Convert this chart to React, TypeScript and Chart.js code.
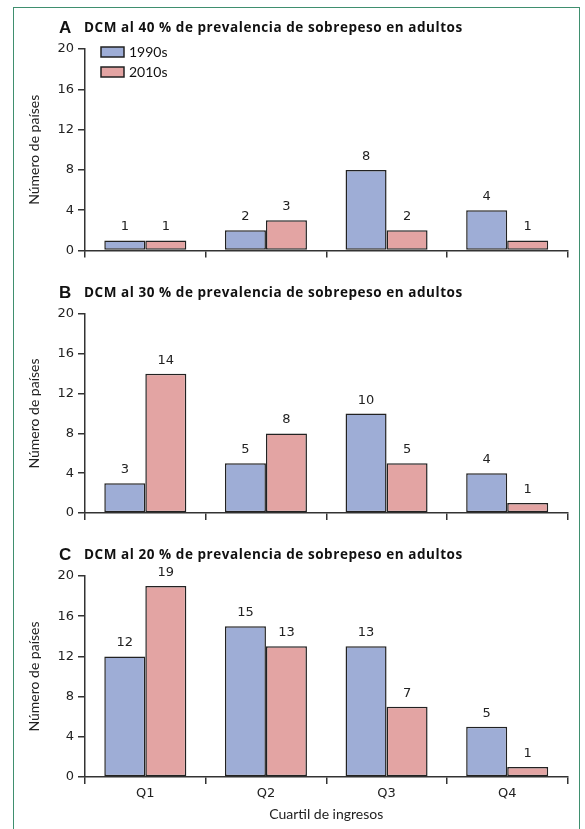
import React, { useEffect, useRef } from 'react';
import { Chart, registerables } from 'chart.js';

Chart.register(...registerables);

// ---------------- data ----------------
const categories = ['Q1', 'Q2', 'Q3', 'Q4'];
const seriesLabels = ['1990s', '2010s'];
const panelLetters = ['A', 'B', 'C'];
const panelTitles = [
  'DCM al 40 % de prevalencia de sobrepeso en adultos',
  'DCM al 30 % de prevalencia de sobrepeso en adultos',
  'DCM al 20 % de prevalencia de sobrepeso en adultos',
];
const values1990A = [1, 2, 8, 4];
const values2010A = [1, 3, 2, 1];
const values1990B = [3, 5, 10, 4];
const values2010B = [14, 8, 5, 1];
const values1990C = [12, 15, 13, 5];
const values2010C = [19, 13, 7, 1];
const yAxisMax = 20;
const yAxisStep = 4;
const yAxisTitle = 'Número de países';
const xAxisTitle = 'Cuartil de ingresos';

// ---------------- styling / layout ----------------
const BLUE = '#9eadd6';
const PINK = '#e3a4a3';
const EDGE = '#222222';
const W = 585;
const AXIS_LEFT = 85;
const AXIS_RIGHT = 567.5;

const panels = [
  { letter: panelLetters[0], title: panelTitles[0], a: values1990A, b: values2010A, legend: true, xLabels: false, top: 0, height: 265, chartTop: 49, chartBottom: 250.5 },
  { letter: panelLetters[1], title: panelTitles[1], a: values1990B, b: values2010B, legend: false, xLabels: false, top: 265, height: 265, chartTop: 49, chartBottom: 248 },
  { letter: panelLetters[2], title: panelTitles[2], a: values1990C, b: values2010C, legend: false, xLabels: true, top: 530, height: 299, chartTop: 46, chartBottom: 247 },
];

const valueLabelPlugin = {
  id: 'valueLabels',
  afterDatasetsDraw(chart: any) {
    const ctx = chart.ctx;
    ctx.save();
    ctx.font = '13px "DejaVu Sans"';
    ctx.fillStyle = '#222';
    ctx.textAlign = 'center';
    ctx.textBaseline = 'alphabetic';
    chart.data.datasets.forEach((ds: any, i: number) => {
      const meta = chart.getDatasetMeta(i);
      meta.data.forEach((el: any, j: number) => {
        ctx.fillText(String(ds.data[j]), el.x, el.y - 10);
      });
    });
    ctx.restore();
  },
};

const boxLegendPlugin = {
  id: 'boxLegend',
  afterDraw(chart: any, _args: any, opts: any) {
    if (!opts || !opts.display) return;
    const { ctx, chartArea } = chart;
    ctx.save();
    chart.data.datasets.forEach((ds: any, i: number) => {
      const x = chartArea.left + 16;
      const y = chartArea.top - 2 + i * 20;
      ctx.fillStyle = ds.backgroundColor;
      ctx.fillRect(x, y, 23, 10);
      ctx.lineWidth = 1.5;
      ctx.strokeStyle = EDGE;
      ctx.strokeRect(x, y, 23, 10);
      ctx.fillStyle = '#111';
      ctx.font = '14px Lato';
      ctx.textBaseline = 'middle';
      ctx.textAlign = 'left';
      ctx.fillText(ds.label, x + 28, y + 5.5);
    });
    ctx.restore();
  },
};

function Panel({ cfg }: { cfg: any }) {
  const ref = useRef<HTMLCanvasElement | null>(null);
  useEffect(() => {
    if (!ref.current) return;
    const chart = new Chart(ref.current, {
      type: 'bar',
      data: {
        labels: categories,
        datasets: [
          { label: seriesLabels[0], data: cfg.a, backgroundColor: BLUE, borderColor: EDGE, borderWidth: 1.5, borderSkipped: false, categoryPercentage: 0.68, barPercentage: 1 },
          { label: seriesLabels[1], data: cfg.b, backgroundColor: PINK, borderColor: EDGE, borderWidth: 1.5, borderSkipped: false, categoryPercentage: 0.68, barPercentage: 1 },
        ],
      },
      options: {
        responsive: false,
        animation: false,
        events: [],
        layout: { padding: { left: 0, right: W - AXIS_RIGHT, top: cfg.chartTop, bottom: 0 } },
        plugins: {
          legend: { display: false },
          tooltip: { enabled: false },
          title: { display: false },
          boxLegend: { display: cfg.legend },
        } as any,
        scales: {
          x: {
            grid: { display: true, drawOnChartArea: false, drawTicks: true, tickLength: 7, offset: true, color: '#333', lineWidth: 1.5 },
            border: { display: true, color: '#333', width: 1.5 },
            ticks: { display: cfg.xLabels, font: { family: 'DejaVu Sans', size: 13 }, color: '#222', padding: 2 },
            title: { display: cfg.xLabels, text: xAxisTitle, font: { family: 'Lato', size: 14 }, color: '#222', padding: { top: 0, bottom: 6 } },
            afterFit: (s: any) => { s.height = cfg.height - cfg.chartBottom; },
          },
          y: {
            min: 0,
            max: yAxisMax,
            ticks: { stepSize: yAxisStep, font: { family: 'DejaVu Sans', size: 13 }, color: '#222', padding: 4 },
            grid: { display: true, drawOnChartArea: false, drawTicks: true, tickLength: 7, color: '#333', lineWidth: 1.5 },
            border: { display: true, color: '#333', width: 1.5 },
            title: { display: true, text: yAxisTitle, font: { family: 'Lato', size: 14 }, color: '#222', padding: { top: 26, bottom: 0 } },
            afterFit: (s: any) => { s.width = AXIS_LEFT; },
          },
        },
      } as any,
      plugins: [valueLabelPlugin, boxLegendPlugin] as any,
    });
    return () => chart.destroy();
  }, [cfg]);

  const titleCenter = cfg.top + cfg.chartTop - 21;
  return (
    <>
      <canvas ref={ref} width={W} height={cfg.height} style={{ position: 'absolute', left: 0, top: cfg.top, width: W, height: cfg.height }} />
      <div style={{ position: 'absolute', left: 59, top: titleCenter - 10, height: 20, lineHeight: '20px', font: 'bold 17px "Liberation Sans"', color: '#111' }}>{cfg.letter}</div>
      <div style={{ position: 'absolute', left: 84, top: titleCenter - 10, height: 20, lineHeight: '20px', font: 'bold 13.5px "Open Sans"', letterSpacing: '0.55px', color: '#111', whiteSpace: 'nowrap' }}>{cfg.title}</div>
    </>
  );
}

export default function App() {
  return (
    <div style={{ position: 'absolute', left: 0, top: 0, width: W, height: 829, background: '#fff', overflow: 'hidden' }}>
      {panels.map((p, i) => <Panel key={i} cfg={p} />)}
      <div style={{ position: 'absolute', left: 13, top: 7, width: 567, height: 840, border: '1.5px solid #3f8f6f', boxSizing: 'border-box', pointerEvents: 'none' }} />
    </div>
  );
}
